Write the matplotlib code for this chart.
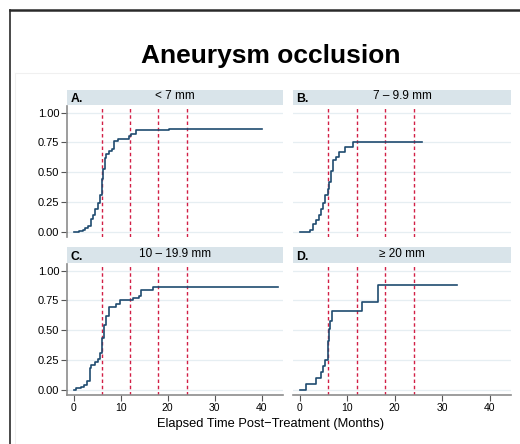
import matplotlib
matplotlib.use('Agg')
import matplotlib.pyplot as plt
from matplotlib.lines import Line2D

plt.rcParams['font.family'] = ['Liberation Sans', 'DejaVu Sans']

# cumulative occlusion, step data (months, proportion)
t_a = [0, 1.1, 1.9, 2.5, 3.0, 3.7, 4.1, 4.6, 5.1, 5.7, 6.0, 6.2, 6.6, 6.9, 7.5, 8.2, 8.6, 9.4, 11.8, 12.3, 13.2, 20.2, 40.0]
v_a = [0, 0.006, 0.014, 0.03, 0.045, 0.11, 0.14, 0.19, 0.24, 0.31, 0.44, 0.53, 0.62, 0.65, 0.68, 0.69, 0.76, 0.78, 0.80, 0.82, 0.85, 0.865, 0.865]

t_b = [0, 2.1, 2.8, 3.5, 4.0, 4.4, 4.9, 5.4, 5.9, 6.2, 6.6, 7.1, 7.6, 8.3, 9.5, 11.3, 25.8]
v_b = [0, 0.014, 0.06, 0.10, 0.14, 0.19, 0.24, 0.31, 0.36, 0.42, 0.51, 0.60, 0.625, 0.67, 0.71, 0.75, 0.75]

t_c = [0, 0.6, 1.6, 2.3, 2.8, 3.4, 3.7, 4.6, 5.1, 5.6, 6.0, 6.4, 6.9, 7.5, 9.1, 9.8, 12.6, 13.9, 14.4, 16.9, 43.4]
v_c = [0, 0.01, 0.02, 0.04, 0.07, 0.18, 0.21, 0.23, 0.26, 0.31, 0.43, 0.54, 0.62, 0.69, 0.72, 0.75, 0.77, 0.79, 0.835, 0.865, 0.865]

t_d = [0, 1.4, 3.5, 4.4, 4.9, 5.4, 5.9, 6.2, 6.4, 6.9, 13.1, 16.6, 33.2]
v_d = [0, 0.05, 0.10, 0.15, 0.20, 0.25, 0.41, 0.51, 0.58, 0.66, 0.74, 0.875, 0.875]

letters = ['A.', 'B.', 'C.', 'D.']
groups = ['< 7 mm', '7 – 9.9 mm', '10 – 19.9 mm', '≥ 20 mm']
marks = [6, 12, 18, 24]
yticks = [0, 0.25, 0.5, 0.75, 1.0]
xticks = [0, 10, 20, 30, 40]

W, H = 520, 444
fig = plt.figure(figsize=(W / 100, H / 100), dpi=100)


def box(x0, y0, x1, y1):
    # pixel box (top-left origin) -> figure fraction rect
    return [x0 / W, 1 - y1 / H, (x1 - x0) / W, (y1 - y0) / H]


# border bits of the original screenshot
fig.add_artist(Line2D([10 / W, 1], [1 - 10 / H] * 2, color='#2a2a2a', lw=1.8))
fig.add_artist(Line2D([10 / W] * 2, [0, 1 - 10 / H], color='#2a2a2a', lw=1.2))
fig.add_artist(Line2D([15 / W, 1], [1 - 73 / H] * 2, color='#f0f0f0', lw=0.8))
fig.add_artist(Line2D([15 / W] * 2, [0, 1 - 73 / H], color='#f0f0f0', lw=0.8))

fig.text(271 / W, 1 - 63 / H, 'Aneurysm occlusion', ha='center', va='baseline',
         fontsize=19, fontweight='bold')

cols = [(67, 283), (293, 511)]
rows = [(90, 106, 237), (247, 264, 395)]
data = [(t_a, v_a), (t_b, v_b), (t_c, v_c), (t_d, v_d)]

for i, (t, v) in enumerate(data):
    r, c = divmod(i, 2)
    x0, x1 = cols[c]
    s0, a0, a1 = rows[r]

    strip = fig.add_axes(box(x0, s0, x1, a0 - 1))
    strip.set_facecolor('#d9e4ea')
    strip.set_xticks([])
    strip.set_yticks([])
    for sp in strip.spines.values():
        sp.set_visible(False)
    strip.text(0.015, 0.4, letters[i], transform=strip.transAxes, ha='left', va='center',
               fontsize=8.8, fontweight='bold')
    strip.text(0.5, 0.58, groups[i], transform=strip.transAxes, ha='center', va='center',
               fontsize=8.5)

    ax = fig.add_axes(box(x0, a0, x1, a1))
    ax.set_xlim(-1.4, 44.5)
    ax.set_ylim(-0.045, 1.055)
    ax.set_yticks(yticks)
    ax.grid(axis='y', color='#e6eef2', lw=0.9)
    ax.set_axisbelow(True)
    for m in marks:
        ax.axvline(m, color='#d21f46', lw=1.0, ls=(0, (2.5, 2)))
    ax.step(t, v, where='post', color='#1f4b70', lw=1.2)

    for sp in ['top', 'right']:
        ax.spines[sp].set_visible(False)
    ax.spines['left'].set_visible(c == 0)
    ax.spines['bottom'].set_visible(r == 1)
    for sp in ['left', 'bottom']:
        ax.spines[sp].set_color('#8c8c8c')
        ax.spines[sp].set_linewidth(1.2)

    if c == 0:
        ax.set_yticklabels(['0.00', '0.25', '0.50', '0.75', '1.00'], fontsize=8)
        ax.tick_params(axis='y', length=4, color='#555555', width=0.8, pad=1.5)
    else:
        ax.tick_params(axis='y', left=False, labelleft=False)
    ax.set_xticks(xticks)
    if r == 1:
        ax.tick_params(axis='x', labelsize=7.5, length=4, color='#555555', width=0.8, pad=2)
    else:
        ax.tick_params(axis='x', bottom=False, labelbottom=False)

fig.text(271 / W, 1 - 424 / H, 'Elapsed Time Post\u2212Treatment (Months)', ha='center',
         va='center', fontsize=9.3)

fig.savefig('out.png', dpi=100)
